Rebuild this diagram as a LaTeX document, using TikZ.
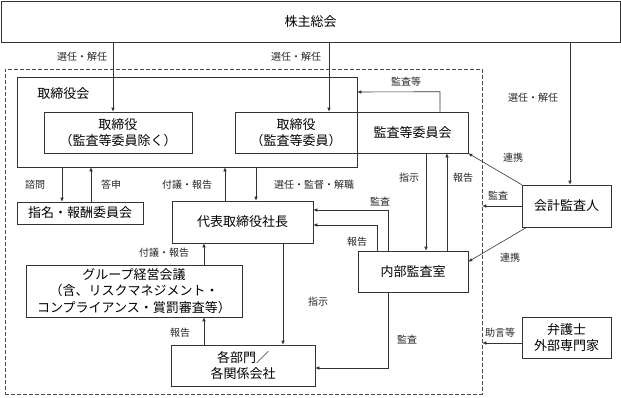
\documentclass[tikz,border=0pt]{standalone}
\usepackage{fontspec}
\setmainfont{Noto Sans CJK JP}
\usetikzlibrary{arrows.meta}

\begin{document}
\begin{tikzpicture}[
    x=1pt, y=-1pt,
    box/.style={
        draw=black!80,
        line width=0.6pt,
        align=center,
        inner sep=0pt,
        font=\fontsize{13}{16.5}\selectfont
    },
    lbl/.style={inner sep=0pt, text=black!85, font=\fontsize{10}{12}\selectfont},
    arrow/.style={-{Latex[length=4pt,width=3.5pt]}, line width=0.6pt, draw=black!80},
    frame/.style={draw=black!70, dash pattern=on 4pt off 2pt, line width=0.6pt}
]
\useasboundingbox (0,0) rectangle (621,397);

% ------------------------
% Shareholders (top)
% ------------------------
\node[box, minimum width=619pt, minimum height=41pt] (agm) at (310.5,21.5) {株主総会};

% ------------------------
% Company frame
% ------------------------
\node[frame, minimum width=477pt, minimum height=325pt] (corp) at (243.5,231.5) {};

% ------------------------
% Board of directors
% ------------------------
\node[box, minimum width=340pt, minimum height=90pt] (board) at (187,122) {};
\node[box, draw=none, anchor=west] (boardtitle) at (37,94) {取締役会};

\node[box, minimum width=148pt, minimum height=41pt] (dir1) at (118,132.5)
{取締役\\（監査等委員除く）};

\node[box, minimum width=122pt, minimum height=41pt] (dir2) at (296,132.5)
{取締役\\（監査等委員）};

\node[box, minimum width=111pt, minimum height=41pt] (acm) at (412.5,132.5)
{監査等委員会};

% ------------------------
% Execution (middle)
% ------------------------
\node[box, minimum width=126pt, minimum height=22pt] (nom) at (80,213)
{指名・報酬委員会};

\node[box, minimum width=141pt, minimum height=42pt] (pres) at (242.5,222)
{代表取締役社長};

\node[box, minimum width=216pt, minimum height=52pt] (grp) at (134,291)
{グループ経営会議\\（含、リスクマネジメント・\\コンプライアンス・賞罰審査等）};

\node[box, minimum width=144pt, minimum height=41pt] (dept) at (243,365.5)
{各部門／\\各関係会社};

\node[box, minimum width=110pt, minimum height=41pt] (ia) at (413,271.5)
{内部監査室};

% ------------------------
% Outside parties (right)
% ------------------------
\node[box, minimum width=89pt, minimum height=42pt] (auditor) at (566.5,206)
{会計監査人};

\node[box, minimum width=89pt, minimum height=41pt] (lawyer) at (566.5,337.5)
{弁護士\\外部専門家};

% ------------------------
% Arrows
% ------------------------
\draw[arrow] ([xshift=-5pt]dir1.north |- agm.south) -- ([xshift=-5pt]dir1.north);
\draw[arrow] ([xshift=33pt]dir2.north |- agm.south) -- ([xshift=33pt]dir2.north);
\draw[arrow] ([xshift=3.5pt]auditor.north |- agm.south) -- ([xshift=3.5pt]auditor.north);

\draw[arrow] ([xshift=27.5pt]acm.north) -- ++(0,-20) -- ([yshift=30pt]board.east);
\draw[arrow] (auditor.north west) -- (acm.south east);
\draw[arrow] (auditor.west) -- (auditor.west -| corp.east);
\draw[arrow] ([xshift=5pt]auditor.south west) -- ([yshift=-11pt]ia.north east);

\draw[arrow] ([xshift=13.5pt]acm.south) -- ([xshift=13.5pt]acm.south |- ia.north);
\draw[arrow] ([xshift=34pt]ia.north) -- ([xshift=34pt]ia.north |- acm.south);
\draw[arrow] ([xshift=-25pt]ia.north) |- ([yshift=12pt]pres.east);
\draw[arrow] ([xshift=-36pt]ia.north) |- ([yshift=-3pt]pres.east);
\draw[arrow] ([xshift=-25pt]ia.south) |- ([yshift=-2.5pt]dept.east);
\draw[arrow] ([yshift=-5.5pt]lawyer.west) -- ([yshift=-5.5pt]lawyer.west -| corp.east);

\draw[arrow] ([xshift=-18pt]nom.north |- board.south) -- ([xshift=-18pt]nom.north);
\draw[arrow] ([xshift=11pt]nom.north) -- ([xshift=11pt]nom.north |- board.south);
\draw[arrow] ([xshift=-17.5pt]pres.north) -- ([xshift=-17.5pt]pres.north |- board.south);
\draw[arrow] ([xshift=13.5pt]pres.north |- board.south) -- ([xshift=13.5pt]pres.north);
\draw[arrow] ([xshift=70pt]grp.north) -- ([xshift=70pt]grp.north |- pres.south);
\draw[arrow] ([xshift=-39pt]dept.north) -- ([xshift=-39pt]dept.north |- grp.south);
\draw[arrow] ([xshift=40.5pt]pres.south) -- ([xshift=40.5pt]pres.south |- dept.north);

% ------------------------
% Arrow labels
% ------------------------
\node[lbl] (elect1) at (82,57) {選任・解任};
\node[lbl] (elect2) at (296,57) {選任・解任};
\node[lbl] (elect3) at (533,98) {選任・解任};
\node[lbl] (audit0) at (406,82) {監査等};
\node[lbl] (coop1) at (513,158) {連携};
\node[lbl] (audit1) at (498,196) {監査};
\node[lbl] (coop2) at (510,258) {連携};
\node[lbl] (order1) at (409,178) {指示};
\node[lbl] (report1) at (463,178) {報告};
\node[lbl] (audit2) at (380,202) {監査};
\node[lbl] (report2) at (357,242) {報告};
\node[lbl] (audit3) at (407,340) {監査};
\node[lbl] (advice) at (500,333) {助言等};
\node[lbl] (consult) at (35,185) {諮問};
\node[lbl] (answer) at (111,185) {答申};
\node[lbl] (submit1) at (187,185) {付議・報告};
\node[lbl] (supervise) at (314,185) {選任・監督・解職};
\node[lbl] (submit2) at (164,253) {付議・報告};
\node[lbl] (report3) at (180,333) {報告};
\node[lbl] (order2) at (318,302) {指示};

\end{tikzpicture}
\end{document}
